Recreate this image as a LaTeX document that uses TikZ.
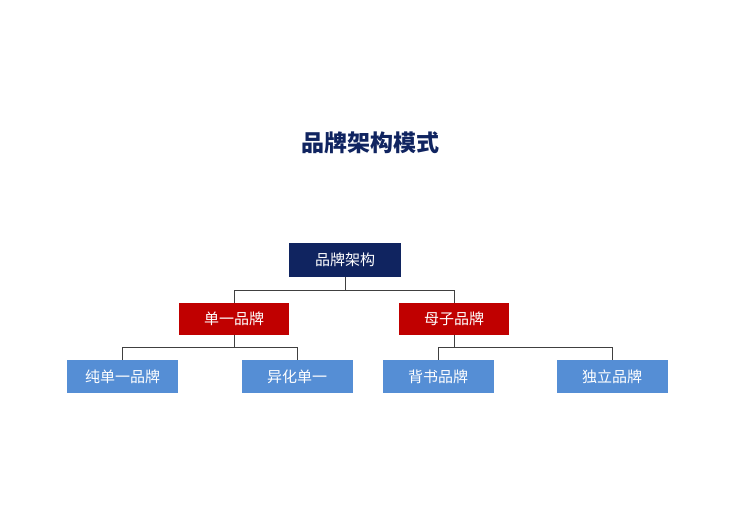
\documentclass[tikz,border=0pt]{standalone}
\usepackage{fontspec}
\newfontfamily\cjk{Noto Sans CJK SC}
\definecolor{navy}{RGB}{16,36,96}
\definecolor{brandred}{RGB}{192,0,0}
\definecolor{brandblue}{RGB}{85,142,213}
\begin{document}
\begin{tikzpicture}[x=1pt,y=-1pt]
        \tikzstyle{box}=[inner sep=0pt,text=white,font=\cjk\fontsize{15}{15}\selectfont]
        \tikzstyle{root}=[box,fill=navy,minimum width=112pt,minimum height=34pt]
        \tikzstyle{mid}=[box,fill=brandred,minimum width=110pt,minimum height=32pt]
        \tikzstyle{leaf}=[box,fill=brandblue,minimum width=111pt,minimum height=33pt]
        \tikzstyle{edge}=[draw=black!75, thick]

        \useasboundingbox (0,0) rectangle (740,517);
        \node [font=\cjk\bfseries\fontsize{23}{23}\selectfont,text=navy] (title) at (370,143) {品牌架构模式};

        \node [root] (r) at (345,260) {品牌架构};
        \node [mid] (m1) at (234,319) {单一品牌};
        \node [mid] (m2) at (454,319) {母子品牌};
        \node [leaf] (l1) at (122.5,376.5) {纯单一品牌};
        \node [leaf] (l2) at (297,376.5) {异化单一};
        \node [leaf] (l3) at (438,376.5) {背书品牌};
        \node [leaf] (l4) at (612,376.5) {独立品牌};

        \path[edge] (r.south) -- ++(0,13) -| (m1.north);
        \path[edge] (r.south) -- ++(0,13) -| (m2.north);
        \foreach \p/\a/\b in {m1/l1/l2, m2/l3/l4} {
          \path[edge] (\p.south) -- ++(0,12) -| (\a.north);
          \path[edge] (\p.south) -- ++(0,12) -| (\b.north);
        }
\end{tikzpicture}
\end{document}
